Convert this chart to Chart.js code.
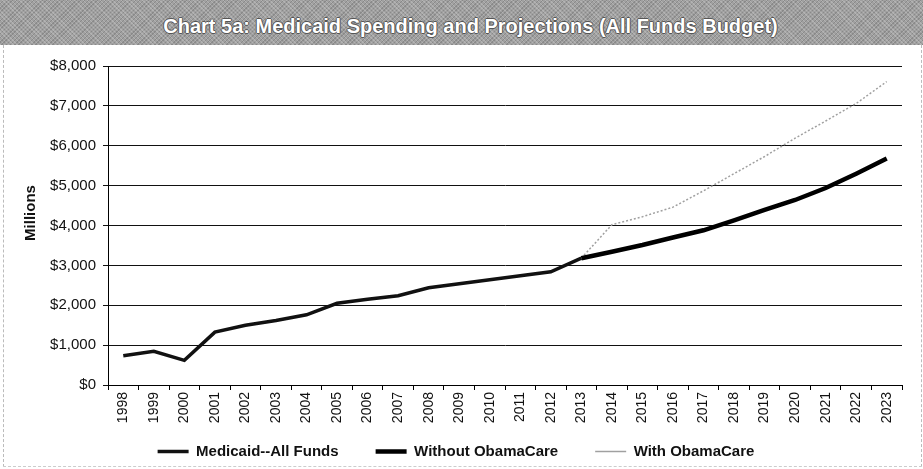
<!DOCTYPE html>
<html>
<head>
<meta charset="utf-8">
<script src="https://cdn.jsdelivr.net/npm/chart.js@4.4.1/dist/chart.umd.min.js"></script>
<style>
body{margin:0;background:#fff;font-family:Arial,"Liberation Sans",sans-serif;}
#wrap{position:relative;width:923px;height:469px;overflow:hidden;}
#band{position:absolute;left:0;top:0;width:923px;height:45px;
background-color:#a0a0a0;
background-image:repeating-linear-gradient(45deg,rgba(255,255,255,.2) 0 1px,transparent 1px 3px),
repeating-linear-gradient(-45deg,rgba(0,0,0,.14) 0 1px,transparent 1px 3px);}
#title{position:absolute;left:9px;top:15px;width:923px;text-align:center;
font:bold 20px Arial,"Liberation Sans",sans-serif;color:#fff;
text-shadow:-1px 0 #555,1px 0 #555,0 -1px #555,0 1px #555;}
#box{position:absolute;left:3px;top:45px;width:917px;height:421px;
border-left:1px dashed #bbb;border-right:1px dashed #bbb;border-bottom:1px dashed #ccc;}
#chart{position:absolute;left:0;top:45px;}
</style>
</head>
<body>
<div id="wrap">
<div id="band"></div>
<div id="title">Chart 5a: Medicaid Spending and Projections (All Funds Budget)</div>
<div id="box"></div>
<canvas id="chart" width="923" height="424"></canvas>
</div>
<script>
// values in millions of dollars
let years=["1998","1999","2000","2001","2002","2003","2004","2005","2006","2007","2008","2009","2010",
"2011","2012","2013","2014","2015","2016","2017","2018","2019","2020","2021","2022","2023"];
let medicaidAll=[734,845,617,1326,1500,1620,1760,2050,2150,2240,2440,2540,2640,2740,2840,3180,
null,null,null,null,null,null,null,null,null,null];
let withoutOC=[null,null,null,null,null,null,null,null,null,null,null,null,null,null,null,
3180,3340,3510,3700,3880,4130,4390,4640,4940,5300,5680];
let withOC=[null,null,null,null,null,null,null,null,null,null,null,null,null,null,null,
3180,4020,4220,4460,4870,5300,5730,6190,6620,7060,7610];
let yTicks=[0,1000,2000,3000,4000,5000,6000,7000,8000];

const fam='Arial, "Liberation Sans", sans-serif';
const gap="      "; // extra room between legend entries

new Chart(document.getElementById("chart").getContext("2d"),{
type:"line",
data:{
labels:years,
datasets:[
{label:"Medicaid--All Funds",data:medicaidAll,borderColor:"#111",backgroundColor:"#111",borderWidth:3.5},
{label:"Without ObamaCare",data:withoutOC,borderColor:"#000",backgroundColor:"#000",borderWidth:4.5},
{label:"With ObamaCare",data:withOC,borderColor:"#a0a0a0",backgroundColor:"#a0a0a0",borderWidth:1.5,borderDash:[2,2]}
]},
options:{
responsive:false,
animation:false,
layout:{padding:{left:10,right:21,top:21,bottom:0}},
elements:{point:{radius:0},line:{tension:0}},
plugins:{
tooltip:{enabled:false},
legend:{position:"bottom",
labels:{usePointStyle:true,pointStyle:"line",pointStyleWidth:31,padding:12,
color:"#111",font:{family:fam,size:15,weight:"bold"},
generateLabels:c=>{
let items=Chart.defaults.plugins.legend.labels.generateLabels(c);
items.forEach((it,i)=>{if(i<items.length-1) it.text+=gap;});
return items;
}}}
},
scales:{
x:{
offset:true,
grid:{offset:true,drawOnChartArea:false,tickLength:5,color:"#000"},
border:{color:"#000",width:1},
ticks:{minRotation:90,maxRotation:90,padding:2,color:"#111",font:{family:fam,size:14}},
afterFit:s=>{s.height=47;}
},
y:{
min:0,max:8000,
afterBuildTicks:s=>{s.ticks=yTicks.map(v=>({value:v}));},
grid:{color:"#111",lineWidth:1,tickLength:5},
border:{color:"#000",width:1},
ticks:{padding:7,color:"#111",font:{family:fam,size:15},
callback:v=>"$"+v.toLocaleString("en-US")},
title:{display:true,text:"      Millions",color:"#111",padding:{top:11.5,bottom:0},
font:{family:fam,size:15,weight:"bold"}},
afterFit:s=>{s.width=98;}
}
}
}
});
</script>
</body>
</html>
